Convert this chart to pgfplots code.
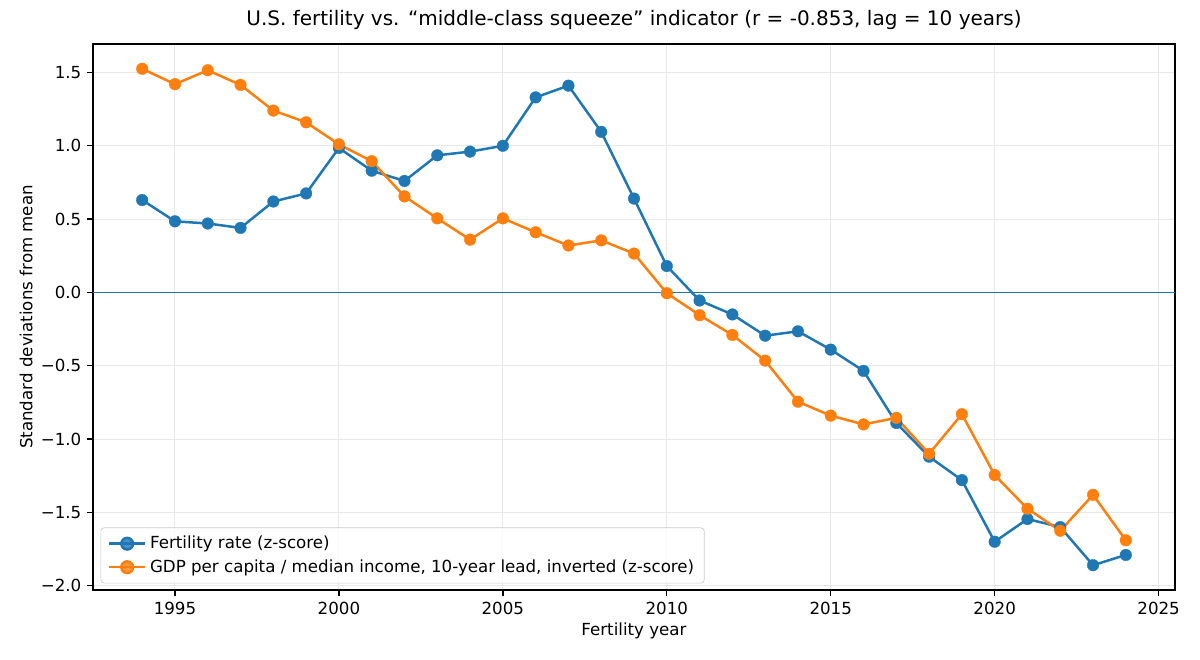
\documentclass[border=0pt]{standalone}
\usepackage{fontspec}
\setmainfont{DejaVu Sans}
\usepackage{pgfplots}
\pgfplotsset{compat=1.18}
\definecolor{tabblue}{HTML}{1F77B4}
\definecolor{taborange}{HTML}{FF7F0E}

\begin{document}
\begin{tikzpicture}
\useasboundingbox (-55.8pt,-42pt) rectangle (664.2pt,354pt);
\begin{axis}[
  scale only axis,
  width=649.2pt, height=327.6pt,
  xmin=1992.5, xmax=2025.5,
  ymin=-2.029, ymax=1.694,
  xtick={1995,2000,2005,2010,2015,2020,2025},
  xticklabels={1995,2000,2005,2010,2015,2020,2025},
  ytick={-2,-1.5,-1,-0.5,0,0.5,1,1.5},
  yticklabels={−2.0,−1.5,−1.0,−0.5,0.0,0.5,1.0,1.5},
  tick align=outside, tick pos=left,
  major tick length=3.5pt,
  every tick/.style={black, line width=0.8pt},
  axis line style={line width=0.8pt},
  grid=major,
  major grid style={line width=0.6pt, black!9},
  ticklabel style={font=\fontsize{10}{12}\selectfont},
  xlabel={Fertility year},
  ylabel={Standard deviations from mean},
  label style={font=\fontsize{10}{12}\selectfont},
  xlabel style={yshift=2pt},
  ylabel style={yshift=-2pt},
  title={U.S. fertility vs. “middle-class squeeze” indicator (r = -0.853, lag = 10 years)},
  title style={font=\fontsize{12}{14}\selectfont, yshift=-1pt},
  legend style={font=\fontsize{10}{12}\selectfont, draw=black!20, rounded corners=2pt,
    fill=white, fill opacity=0.8, text opacity=1, inner xsep=4pt, inner ysep=3pt,
    at={(0.007,0.012)}, anchor=south west, row sep=1pt},
  legend cell align=left,
  legend image code/.code={
    \draw[#1] (0pt,0pt) -- (22pt,0pt);
    \fill[#1] (11pt,0pt) circle (3.5pt);
  },
]
\addplot[tabblue, line width=1.5pt, mark=*, mark size=3.5pt, mark options={solid, line width=0.2pt}] coordinates {
(1994,0.63) (1995,0.485) (1996,0.47) (1997,0.44) (1998,0.62) (1999,0.675)
(2000,0.985) (2001,0.83) (2002,0.76) (2003,0.935) (2004,0.96) (2005,1.0)
(2006,1.33) (2007,1.41) (2008,1.095) (2009,0.64) (2010,0.18) (2011,-0.055)
(2012,-0.15) (2013,-0.295) (2014,-0.265) (2015,-0.39) (2016,-0.535) (2017,-0.89)
(2018,-1.12) (2019,-1.28) (2020,-1.70) (2021,-1.545) (2022,-1.60) (2023,-1.86) (2024,-1.79)
};
\addlegendentry{Fertility rate (z-score)}
\addplot[taborange, line width=1.5pt, mark=*, mark size=3.5pt, mark options={solid, line width=0.2pt}] coordinates {
(1994,1.525) (1995,1.42) (1996,1.515) (1997,1.415) (1998,1.24) (1999,1.16)
(2000,1.01) (2001,0.895) (2002,0.655) (2003,0.505) (2004,0.36) (2005,0.505)
(2006,0.41) (2007,0.32) (2008,0.355) (2009,0.265) (2010,-0.005) (2011,-0.155)
(2012,-0.29) (2013,-0.465) (2014,-0.745) (2015,-0.84) (2016,-0.90) (2017,-0.855)
(2018,-1.10) (2019,-0.83) (2020,-1.245) (2021,-1.475) (2022,-1.625) (2023,-1.38) (2024,-1.69)
};
\addlegendentry{GDP per capita / median income, 10-year lead, inverted (z-score)}
\addplot[tabblue, line width=0.8pt, forget plot] coordinates {(1992.5,0) (2025.5,0)};
\end{axis}
\end{tikzpicture}
\end{document}
